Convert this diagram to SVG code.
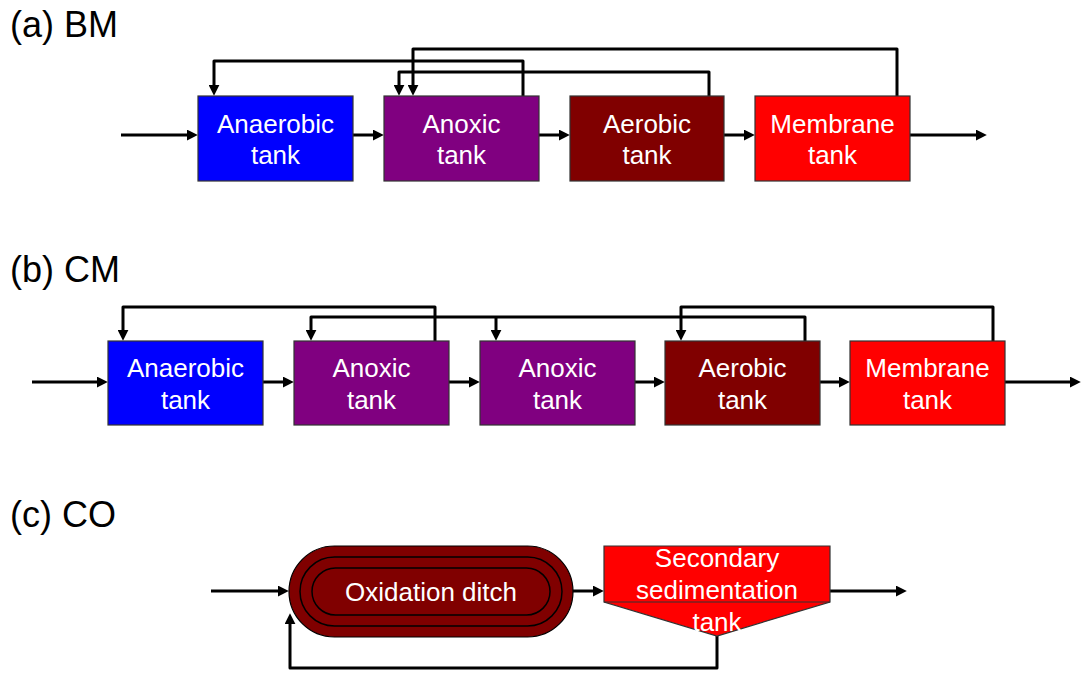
<svg xmlns="http://www.w3.org/2000/svg" width="1081" height="675" viewBox="0 0 1081 675">
<style>
.lbl{font-family:"Liberation Sans",Arial,sans-serif;font-size:36px;fill:#000}
.t{font-family:"Liberation Sans",Arial,sans-serif;font-size:26px;fill:#fff;text-anchor:middle}
.box{stroke:#333;stroke-width:1.2}
.ana{fill:#0000ff}.anx{fill:#800080}.aer{fill:#800000}.mem{fill:#ff0000}
.c{fill:none;stroke:#000;stroke-width:3;stroke-linejoin:round}
.a{marker-end:url(#ah)}
</style>
<defs>
<marker id="ah" viewBox="0 0 10 10" refX="2" refY="5" markerWidth="11" markerHeight="11" markerUnits="userSpaceOnUse" orient="auto">
<path d="M0,0 L10,5 L0,10 z" fill="#000"/>
</marker>
</defs>
<rect width="1081" height="675" fill="#fff"/>
<text class="lbl" x="10" y="37">(a) BM</text>
<text class="lbl" x="10" y="282">(b) CM</text>
<text class="lbl" x="10" y="527">(c) CO</text>

<g id="connectors">
<!-- (a) -->
<path class="c a" d="M121,135 H189"/>
<path class="c a" d="M353,135 H375"/>
<path class="c a" d="M539,135 H561"/>
<path class="c a" d="M724,135 H746"/>
<path class="c a" d="M910,135 H978"/>
<path class="c a" d="M523,96 V61 H214 V87"/>
<path class="c a" d="M897,96 V49 H413 V87"/>
<path class="c a" d="M709,96 V72 H399 V87"/>
<!-- (b) -->
<path class="c a" d="M32,382 H99"/>
<path class="c a" d="M263,382 H285"/>
<path class="c a" d="M449,382 H471"/>
<path class="c a" d="M635,382 H656"/>
<path class="c a" d="M820,382 H841"/>
<path class="c a" d="M1005,382 H1072"/>
<path class="c a" d="M435,341 V307 H123 V332"/>
<path class="c a" d="M805,341 V317 H311 V332"/>
<path class="c a" d="M496,317 V332"/>
<path class="c a" d="M993,341 V307 H681 V332"/>
<!-- (c) -->
<path class="c a" d="M211,591 H280"/>
<path class="c a" d="M573,591 H595"/>
<path class="c a" d="M830,591 H898"/>
<path class="c a" d="M717,636 V668 H290 V622"/>
</g>

<g id="a-anaerobic"><rect class="box ana" x="198" y="96" width="155" height="85"/><text class="t" x="275.5" y="133">Anaerobic</text><text class="t" x="275.5" y="164">tank</text></g>
<g id="a-anoxic"><rect class="box anx" x="384" y="96" width="155" height="85"/><text class="t" x="461.5" y="133">Anoxic</text><text class="t" x="461.5" y="164">tank</text></g>
<g id="a-aerobic"><rect class="box aer" x="570" y="96" width="154" height="85"/><text class="t" x="647" y="133">Aerobic</text><text class="t" x="647" y="164">tank</text></g>
<g id="a-membrane"><rect class="box mem" x="755" y="96" width="155" height="85"/><text class="t" x="832.5" y="133">Membrane</text><text class="t" x="832.5" y="164">tank</text></g>

<g id="b-anaerobic"><rect class="box ana" x="108" y="341" width="155" height="84"/><text class="t" x="185.5" y="377">Anaerobic</text><text class="t" x="185.5" y="409">tank</text></g>
<g id="b-anoxic1"><rect class="box anx" x="294" y="341" width="155" height="84"/><text class="t" x="371.5" y="377">Anoxic</text><text class="t" x="371.5" y="409">tank</text></g>
<g id="b-anoxic2"><rect class="box anx" x="480" y="341" width="155" height="84"/><text class="t" x="557.5" y="377">Anoxic</text><text class="t" x="557.5" y="409">tank</text></g>
<g id="b-aerobic"><rect class="box aer" x="665" y="341" width="155" height="84"/><text class="t" x="742.5" y="377">Aerobic</text><text class="t" x="742.5" y="409">tank</text></g>
<g id="b-membrane"><rect class="box mem" x="850" y="341" width="155" height="84"/><text class="t" x="927.5" y="377">Membrane</text><text class="t" x="927.5" y="409">tank</text></g>

<g id="c-ditch">
<rect x="289" y="546" width="284" height="91" rx="45.5" fill="#800000" stroke="#000" stroke-width="1.2"/>
<rect x="300" y="557" width="262" height="69" rx="34.5" fill="#800000" stroke="#000" stroke-width="1.5"/>
<rect x="312" y="568" width="238" height="47" rx="23.5" fill="#800000" stroke="#000" stroke-width="1.5"/>
<text class="t" x="431" y="601">Oxidation ditch</text>
</g>
<g id="c-sedimentation">
<path d="M604,546 H830 V602 L717,636 L604,602 Z" fill="#ff0000" stroke="#333" stroke-width="1.2"/>
<line x1="604" y1="602" x2="830" y2="602" stroke="#333" stroke-width="1"/>
<text class="t" x="717" y="567">Secondary</text>
<text class="t" x="717" y="599">sedimentation</text>
<text class="t" x="717" y="631">tank</text>
</g>
</svg>
